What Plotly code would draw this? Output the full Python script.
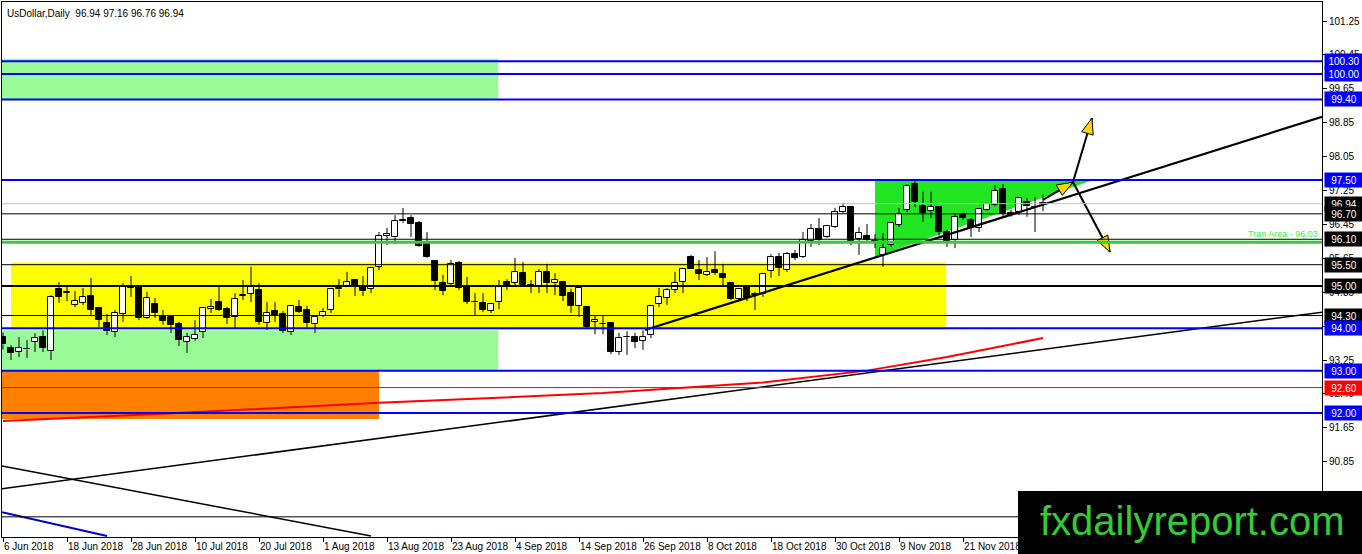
import math
import plotly.graph_objects as go
import pandas as pd

# ---------------- data ----------------
dates = pd.bdate_range("2018-06-06", periods=131)

open_ = [93.80, 93.53, 93.44, 93.50, 93.68, 93.80, 93.46, 94.93, 94.84, 94.55,
         94.60, 94.76, 94.48, 94.12, 93.91, 94.34, 94.95, 95.00, 94.24, 94.57,
         94.29, 94.27, 94.10, 93.68, 93.75, 93.91, 94.46, 94.62, 94.45, 94.27,
         94.77, 94.81, 94.90, 94.12, 94.41, 94.34, 93.91, 94.50, 94.43, 94.10,
         94.29, 94.43, 94.92, 94.98, 95.14, 94.97, 94.93, 95.45, 96.18, 96.15,
         96.55, 96.60, 96.48, 96.01, 95.59, 95.07, 95.04, 95.54, 94.97, 94.62,
         94.60, 94.41, 94.62, 95.09, 95.07, 95.30, 95.00, 95.00, 95.33, 95.07,
         95.09, 94.83, 94.53, 94.50, 94.15, 94.10, 94.12, 93.44, 93.80, 93.79,
         93.70, 93.84, 94.57, 94.72, 94.90, 95.09, 95.68, 95.38, 95.26, 95.38,
         95.28, 95.07, 94.69, 94.97, 94.79, 94.81, 95.35, 95.68, 95.38, 95.75,
         95.68, 96.06, 96.34, 96.15, 96.39, 96.74, 96.86, 96.11, 96.18, 96.06,
         95.73, 95.96, 96.44, 96.79, 97.40, 96.88, 96.77, 96.86, 96.27, 96.08,
         96.70, 96.55, 96.37, 96.79, 96.91, 97.29, 96.72, 96.74, 96.98, 96.86,
         96.94]
high = [93.90, 93.60, 93.79, 93.72, 93.88, 93.95, 94.78, 95.09, 95.02, 94.88,
        94.95, 95.19, 94.50, 94.34, 94.43, 95.07, 95.23, 95.02, 94.86, 94.71,
        94.43, 94.31, 94.15, 93.89, 94.19, 94.50, 94.69, 94.97, 94.50, 94.83,
        95.14, 95.45, 95.07, 94.62, 94.62, 94.41, 94.53, 94.67, 94.53, 94.31,
        94.48, 94.95, 95.16, 95.33, 95.16, 95.23, 95.45, 96.27, 96.37, 96.67,
        96.84, 96.67, 96.53, 96.27, 95.59, 95.26, 95.61, 95.59, 95.21, 94.83,
        94.83, 94.60, 95.14, 95.16, 95.66, 95.56, 95.14, 95.40, 95.52, 95.30,
        95.11, 94.93, 94.95, 94.53, 94.29, 94.29, 94.12, 93.89, 93.93, 93.89,
        93.95, 94.55, 94.95, 94.95, 95.33, 95.42, 95.73, 95.61, 95.68, 95.82,
        95.52, 95.09, 94.95, 95.02, 94.86, 95.30, 95.75, 95.78, 95.80, 95.85,
        96.27, 96.46, 96.60, 96.44, 96.84, 96.96, 96.88, 96.39, 96.46, 96.22,
        96.25, 96.51, 96.84, 97.40, 97.47, 97.22, 97.22, 96.86, 96.32, 96.72,
        96.72, 96.60, 96.84, 96.96, 97.38, 97.40, 96.79, 97.07, 97.07, 97.10,
        97.16]
low = [93.50, 93.25, 93.32, 93.30, 93.44, 93.44, 93.25, 94.60, 94.64, 94.50,
       94.55, 94.31, 94.03, 93.84, 93.79, 94.15, 94.74, 94.19, 94.22, 94.24,
       94.08, 93.89, 93.58, 93.42, 93.70, 93.77, 94.36, 94.41, 94.10, 94.00,
       94.67, 94.62, 94.08, 93.96, 94.15, 93.89, 93.84, 94.36, 94.01, 93.89,
       94.26, 94.36, 94.74, 94.98, 94.76, 94.76, 94.83, 95.37, 95.96, 95.99,
       96.48, 96.15, 95.92, 95.66, 94.90, 94.78, 95.00, 94.90, 94.57, 94.31,
       94.38, 94.36, 94.45, 94.90, 95.02, 95.00, 94.83, 94.83, 94.83, 94.78,
       94.64, 94.36, 94.27, 94.01, 93.86, 93.86, 93.39, 93.37, 93.37, 93.53,
       93.49, 93.77, 94.50, 94.55, 94.83, 94.83, 95.40, 95.14, 95.23, 95.26,
       95.02, 94.67, 94.67, 94.64, 94.43, 94.74, 95.19, 95.23, 95.33, 95.61,
       95.66, 95.92, 95.96, 96.13, 96.37, 96.70, 95.96, 95.73, 96.01, 95.89,
       95.45, 95.92, 96.39, 96.74, 96.86, 96.51, 96.60, 96.18, 95.92, 95.89,
       96.55, 96.15, 96.27, 96.77, 96.88, 96.65, 96.63, 96.67, 96.63, 96.27,
       96.76]
close = [93.62, 93.42, 93.53, 93.51, 93.77, 93.53, 94.74, 94.74, 94.85, 94.65,
         94.74, 94.43, 94.20, 93.93, 94.36, 95.00, 94.96, 94.24, 94.71, 94.36,
         94.17, 94.08, 93.72, 93.79, 93.84, 94.48, 94.50, 94.43, 94.24, 94.69,
         94.79, 94.97, 94.15, 94.36, 94.29, 93.94, 94.53, 94.38, 94.12, 94.27,
         94.38, 94.93, 94.94, 95.09, 94.98, 94.88, 95.42, 96.18, 96.22, 96.53,
         96.52, 96.46, 95.94, 95.68, 95.11, 94.88, 95.52, 94.95, 94.62, 94.61,
         94.43, 94.57, 94.97, 94.97, 95.33, 95.02, 95.00, 95.33, 95.07, 95.14,
         94.76, 94.53, 94.95, 94.03, 94.19, 94.10, 93.44, 93.77, 93.79, 93.68,
         93.79, 94.53, 94.74, 94.90, 95.07, 95.40, 95.40, 95.28, 95.33, 95.30,
         95.19, 94.69, 94.93, 94.71, 94.80, 95.28, 95.68, 95.42, 95.75, 95.66,
         96.08, 96.34, 96.08, 96.41, 96.74, 96.86, 96.06, 96.25, 96.08, 96.05,
         95.89, 96.48, 96.70, 97.36, 96.98, 96.72, 96.86, 96.27, 96.06, 96.63,
         96.60, 96.37, 96.81, 96.93, 97.24, 96.70, 96.68, 97.07, 96.88, 96.86,
         96.94]

# red moving average (bar index, value)
ma_bars = [0, 20, 47, 75, 95, 108, 118, 130]
ma_vals = [91.81, 91.98, 92.24, 92.47, 92.72, 93.00, 93.32, 93.77]

# horizontal levels: price, colour, width, label background (None = no box)
levels = [
    (100.30, "#0000FF", 2, "#0000FF"),
    (100.00, "#0000FF", 2, "#0000FF"),
    (99.40, "#0000FF", 2, "#0000FF"),
    (97.50, "#0000FF", 2, "#0000FF"),
    (96.94, "#C0C0C0", 1, "#000000"),
    (96.70, "#000000", 1, "#000000"),
    (96.10, "#000000", 1, "#000000"),
    (96.03, "#32CD32", 3, None),
    (95.50, "#000000", 1, "#000000"),
    (95.00, "#000000", 2, "#000000"),
    (94.30, "#000000", 1, "#000000"),
    (94.00, "#0000FF", 2, "#0000FF"),
    (93.00, "#0000FF", 2, "#0000FF"),
    (92.60, "#FF0000", 1, "#FF0000"),
    (92.00, "#0000FF", 2, "#0000FF"),
    (89.55, "#000000", 1, None),
]

# zones: x0 bar, x1 bar, low price, high price, colour
zones = [
    (-0.2, 61.9, 99.38, 100.36, "#98FB98"),
    (1.0, 117.9, 93.95, 95.55, "#FFFF00"),
    (-0.2, 61.9, 93.00, 93.95, "#98FB98"),
    (-0.2, 47.0, 91.86, 93.00, "#FF8000"),
]
triangle_x = [109, 136.25, 109]
triangle_y = [97.50, 97.50, 95.68]

# trend lines: x0, p0, x1, p1, colour, width
trendlines = [
    (80.25, 93.96, 164.875, 98.99, "#000000", 2.2),
    (-0.125, 90.21, 164.875, 94.38, "#000000", 1.5),
    (-0.125, 90.75, 46.0, 89.10, "#000000", 1.5),
    (-0.125, 89.66, 13.0, 89.10, "#0000CC", 2),
]
# arrows: x0, p0, x1, p1
arrows = [
    (130.0, 97.03, 133.75, 97.45),
    (133.75, 97.45, 136.125, 98.96),
    (133.75, 97.45, 138.375, 95.80),
]

yticks = [90.05, 90.85, 91.65, 92.45, 93.25, 94.05, 94.85, 95.65, 96.45,
          97.25, 98.05, 98.85, 99.65, 100.45, 101.25]
tick_bars = [0, 8, 16, 24, 32, 40, 48, 56, 64, 72, 80, 88, 96, 104, 112, 120]

# ---------------- figure ----------------
W, H = 1362, 554
ML, MR, MT, MB = 2, 40, 2, 17
X_RANGE = [-0.125, 164.875]
Y_RANGE = [89.074, 101.699]
PW, PH = W - ML - MR, H - MT - MB
px_per_bar = PW / (X_RANGE[1] - X_RANGE[0])
px_per_price = PH / (Y_RANGE[1] - Y_RANGE[0])

FONT = "Liberation Sans, Arial, sans-serif"
x = list(range(len(dates)))

fig = go.Figure()

# candles: bodies
body_base = [min(o, c) for o, c in zip(open_, close)]
body_h = [max(abs(c - o), 0.012) for o, c in zip(open_, close)]
body_col = ["white" if c >= o else "black" for o, c in zip(open_, close)]
fig.add_trace(go.Bar(x=x, y=body_h, base=body_base, width=0.7,
                     marker=dict(color=body_col, line=dict(color="black", width=1)),
                     hoverinfo="skip", showlegend=False))
# candles: wicks (outside the body only)
wx, wy = [], []
for i in x:
    top = max(open_[i], close[i])
    bot = min(open_[i], close[i])
    wx += [i, i, None, i, i, None]
    wy += [low[i], bot, None, top, high[i], None]
fig.add_trace(go.Scatter(x=wx, y=wy, mode="lines", line=dict(color="black", width=1),
                         hoverinfo="skip", showlegend=False))

fig.add_trace(go.Scatter(x=ma_bars, y=ma_vals, mode="lines",
                         line=dict(color="#FF0000", width=2),
                         hoverinfo="skip", showlegend=False))

for x0, p0, x1, p1, col, wd in trendlines:
    fig.add_trace(go.Scatter(x=[x0, x1], y=[p0, p1], mode="lines",
                             line=dict(color=col, width=wd),
                             hoverinfo="skip", showlegend=False))

for x0, p0, x1, p1 in arrows:
    fig.add_trace(go.Scatter(x=[x0, x1], y=[p0, p1], mode="lines",
                             line=dict(color="black", width=2),
                             hoverinfo="skip", showlegend=False))
    dx = (x1 - x0) * px_per_bar
    dy = (p1 - p0) * px_per_price
    L = math.hypot(dx, dy)
    ux, uy = dx / L, dy / L
    hl, hw = 16, 6
    bx, by = -ux * hl, -uy * hl
    nx, ny = -uy * hw, ux * hw
    pts = [(0, 0), (bx + nx, by + ny), (bx - nx, by - ny), (0, 0)]
    fig.add_trace(go.Scatter(
        x=[x1 + px / px_per_bar for px, _ in pts],
        y=[p1 + py / px_per_price for _, py in pts],
        mode="lines", fill="toself", fillcolor="#FFD700",
        line=dict(color="black", width=1), hoverinfo="skip", showlegend=False))

shapes = []
for x0, x1, lo, hi, col in zones:
    shapes.append(dict(type="rect", xref="x", yref="y", x0=x0, x1=x1, y0=lo, y1=hi,
                       fillcolor=col, line=dict(width=0), layer="below"))
tri_path = "M " + " L ".join(f"{a},{b}" for a, b in zip(triangle_x, triangle_y)) + " Z"
shapes.append(dict(type="path", xref="x", yref="y", path=tri_path,
                   fillcolor="#22E622", line=dict(width=0), layer="below"))

annotations = []
for p, col, wd, box in levels:
    shapes.append(dict(type="line", xref="paper", yref="y", x0=0, x1=1, y0=p, y1=p,
                       line=dict(color=col, width=wd), layer="above"))
    if box:
        annotations.append(dict(xref="paper", yref="y", x=1, y=p, xanchor="left",
                                yanchor="middle", xshift=2, text=f"{p:.2f}",
                                showarrow=False, bgcolor=box, width=36, height=12,
                                font=dict(family=FONT, size=10, color="white")))

# watermark box
shapes.append(dict(type="rect", xref="paper", yref="paper",
                   x0=(1018 - ML) / PW, x1=(W - ML) / PW,
                   y0=-MB / PH, y1=(H - MB - 491) / PH,
                   fillcolor="black", line=dict(width=0), layer="above"))
annotations.append(dict(xref="paper", yref="paper",
                        x=(1192 - ML) / PW, y=(H - MB - 521) / PH,
                        text="fxdailyreport.com", showarrow=False,
                        font=dict(family=FONT, size=40, color="#33CC33"),
                        xanchor="center", yanchor="middle"))
annotations.append(dict(xref="paper", yref="paper", x=0.002, y=1, xanchor="left",
                        yanchor="top", yshift=-4,
                        text=f"UsDollar,Daily  {open_[-1]:.2f} {high[-1]:.2f} {low[-1]:.2f} {close[-1]:.2f}",
                        showarrow=False, font=dict(family=FONT, size=10, color="black")))
annotations.append(dict(xref="paper", yref="y", x=1, y=96.03, xanchor="right",
                        yanchor="bottom", xshift=-2, yshift=1, text="Tran Area - 96.03",
                        showarrow=False, font=dict(family=FONT, size=9, color="#44EE44")))

ticktext = [f"{dates[i].day} {dates[i].strftime('%b %Y')}" for i in tick_bars]

fig.update_layout(
    width=W, height=H, autosize=False,
    margin=dict(l=ML, r=MR, t=MT, b=MB, pad=0, autoexpand=False),
    paper_bgcolor="white", plot_bgcolor="white",
    shapes=shapes, annotations=annotations, bargap=0,
    xaxis=dict(range=X_RANGE, showgrid=False, zeroline=False, showline=True,
               mirror=True, linecolor="black", linewidth=1, ticks="outside",
               ticklen=4, tickcolor="black", tickvals=tick_bars, ticktext=ticktext,
               ticklabelposition="outside right", tickangle=0, automargin=False,
               tickfont=dict(family=FONT, size=10, color="black"), fixedrange=True),
    yaxis=dict(range=Y_RANGE, side="right", showgrid=False, zeroline=False,
               showline=True, mirror=True, linecolor="black", linewidth=1,
               ticks="outside", ticklen=4, tickcolor="black", tickvals=yticks,
               ticktext=[f"{v:.2f}" for v in yticks], automargin=False,
               tickfont=dict(family=FONT, size=10, color="black"), fixedrange=True),
    showlegend=False,
)

fig.write_html("out.html", config={"displayModeBar": False},
               post_script="document.body.style.margin='0px';document.body.style.overflow='hidden';")
